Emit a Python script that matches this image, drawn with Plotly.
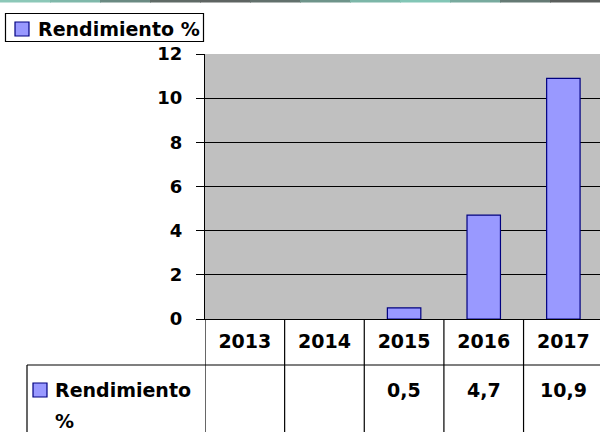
import plotly.graph_objects as go

years = ["2013", "2014", "2015", "2016", "2017"]
rendimiento = [None, None, 0.5, 4.7, 10.9]
series_name = "Rendimiento %"
y_ticks = [0, 2, 4, 6, 8, 10, 12]

FONT = "DejaVu Sans"
BAR_FILL = "#9999FF"
BAR_LINE = "#000080"

# pixel geometry helpers (plot area: x 205..600, y 54..319)
PL, PR, PT, PB = 205, 600, 54, 319
W, H = 600, 432


def px_x(p):
    return (p - PL) / (PR - PL)


def px_y(p):
    return (PB - p) / (PB - PT)


fig = go.Figure()
fig.add_trace(go.Bar(
    x=list(range(len(years))), y=rendimiento, name=series_name,
    width=0.42, marker=dict(color=BAR_FILL, line=dict(color=BAR_LINE, width=1.2)),
    showlegend=False,
))

shapes = []
annotations = []
bold = dict(family=FONT, size=19, color="black", weight="bold")

# gradient strip at top
strip_cols = ["#8cc8b8", "#7fb8aa", "#6a8a82", "#5f6a66", "#5e6462", "#62706c",
              "#6e948a", "#7cb6a8", "#82c6b6", "#78aa9e", "#657a74", "#5a5e5c"]
n = len(strip_cols)
for i, c in enumerate(strip_cols):
    shapes.append(dict(type="rect", xref="paper", yref="paper",
                       x0=px_x(i * W / n), x1=px_x((i + 1) * W / n + 1),
                       y0=px_y(2.5), y1=px_y(0), fillcolor=c, line=dict(width=0), layer="above"))

# legend box (manual)
shapes.append(dict(type="rect", xref="paper", yref="paper", x0=px_x(5.5), x1=px_x(203.5),
                   y0=px_y(41.5), y1=px_y(13.5), fillcolor="white",
                   line=dict(color="black", width=1.2)))
shapes.append(dict(type="rect", xref="paper", yref="paper", x0=px_x(15), x1=px_x(29),
                   y0=px_y(36), y1=px_y(22), fillcolor=BAR_FILL,
                   line=dict(color=BAR_LINE, width=1.2)))
annotations.append(dict(xref="paper", yref="paper", x=px_x(36), y=px_y(29), text=series_name,
                        showarrow=False, xanchor="left", yanchor="middle", font=bold))

# table vertical boundaries (category boundaries via x axis)
for i in range(len(years) + 1):
    shapes.append(dict(type="line", xref="x", yref="paper", x0=i - 0.5, x1=i - 0.5,
                       y0=px_y(H + 5), y1=0, line=dict(color="black", width=1.2)))
# horizontal row separator
shapes.append(dict(type="line", xref="paper", yref="paper", x0=px_x(27), x1=px_x(W + 5),
                   y0=px_y(365), y1=px_y(365), line=dict(color="black", width=1.2)))
# header cell left border
shapes.append(dict(type="line", xref="paper", yref="paper", x0=px_x(27), x1=px_x(27),
                   y0=px_y(H + 5), y1=px_y(365), line=dict(color="black", width=1.2)))
# header key square
shapes.append(dict(type="rect", xref="paper", yref="paper", x0=px_x(33), x1=px_x(47),
                   y0=px_y(397), y1=px_y(383), fillcolor=BAR_FILL,
                   line=dict(color=BAR_LINE, width=1.2)))

annotations.append(dict(xref="paper", yref="paper", x=px_x(53), y=px_y(390), text="Rendimiento",
                        showarrow=False, xanchor="left", yanchor="middle", font=bold))
annotations.append(dict(xref="paper", yref="paper", x=px_x(53), y=px_y(421), text="%",
                        showarrow=False, xanchor="left", yanchor="middle", font=bold))

for i, v in enumerate(rendimiento):
    if v is None:
        continue
    annotations.append(dict(xref="x", yref="paper", x=i, y=px_y(390),
                            text=f"{v:.1f}".replace(".", ","), showarrow=False,
                            xanchor="center", yanchor="middle", font=bold))

fig.update_layout(
    width=W, height=H,
    margin=dict(l=PL, r=W - PR, t=PT, b=H - PB, pad=0, autoexpand=False),
    paper_bgcolor="white", plot_bgcolor="#C0C0C0",
    font=bold,
    showlegend=False,
    bargap=0.5,
    shapes=shapes, annotations=annotations,
    xaxis=dict(range=[-0.5, 4.46], tickvals=list(range(len(years))), ticktext=years,
               showline=True, linecolor="black", linewidth=1.2, ticks="", showgrid=False,
               zeroline=False, ticklabelstandoff=5, automargin=False,
               tickfont=bold),
    yaxis=dict(range=[0, 12], tickvals=y_ticks, showline=True, linecolor="black", linewidth=1.2,
               ticks="outside", ticklen=8, tickcolor="black", tickwidth=1.2,
               showgrid=True, gridcolor="black", gridwidth=1.2, zeroline=False,
               ticklabelstandoff=10, automargin=False,
               tickfont=dict(family=FONT, size=18, color="black", weight="bold")),
)

fig.write_html("out.html", config={"displayModeBar": False},
               post_script="document.body.style.margin='0';")
